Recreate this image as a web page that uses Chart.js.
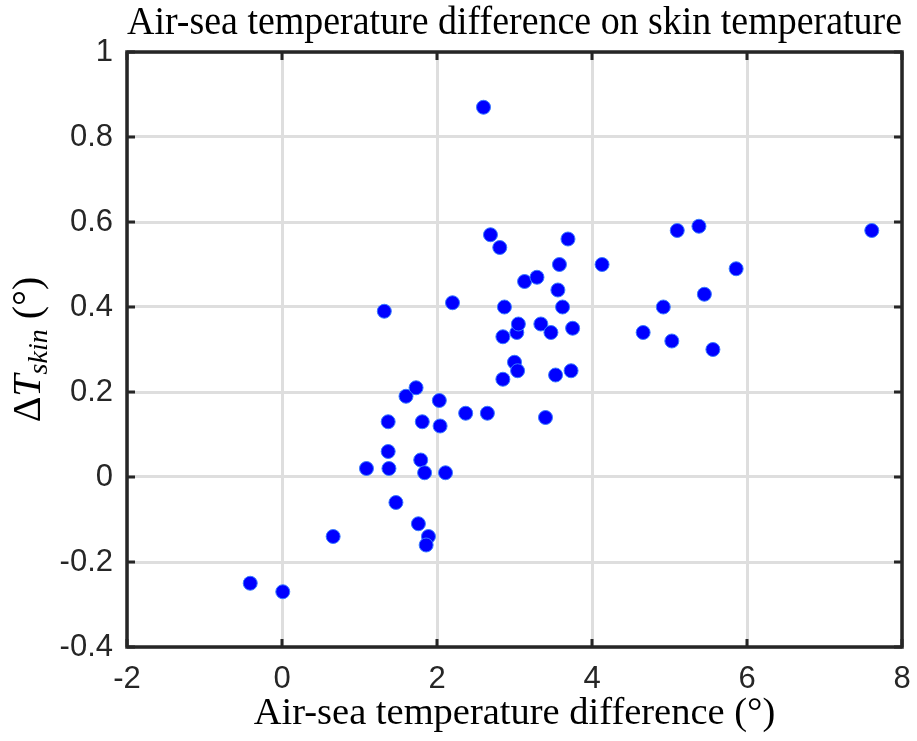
<!DOCTYPE html>
<html>
<head>
<meta charset="utf-8">
<script src="https://cdn.jsdelivr.net/npm/chart.js@4.4.1/dist/chart.umd.min.js"></script>
<style>
  html, body { margin: 0; padding: 0; background: #fff; }
</style>
</head>
<body>
<canvas id="graphe" width="917" height="741"></canvas>
<script>
// Textes du graphique
const chartTitle = 'Air-sea temperature difference on skin temperature';
const xAxisTitle = 'Air-sea temperature difference (°)';

// Points (x : difference air-mer, y : delta T skin)
const airSeaDiff = [-0.41, 0.01, 0.66, 1.09, 1.32, 1.37, 1.37, 1.38, 1.47, 1.60,
  1.73, 1.76, 1.79, 1.81, 1.84, 1.89, 1.86, 2.03, 2.04, 2.11,
  2.20, 2.37, 2.60, 2.65, 2.69, 2.81, 2.85, 2.85, 2.87, 3.00,
  3.03, 3.04, 3.05, 3.13, 3.29, 3.34, 3.40, 3.47, 3.53, 3.56,
  3.58, 3.62, 3.69, 3.73, 3.75, 4.13, 4.66, 4.92, 5.03, 5.10,
  5.38, 5.45, 5.56, 5.86, 7.61];
const deltaTskin = [-0.25, -0.27, -0.14, 0.02, 0.39, 0.13, 0.06, 0.02, -0.06, 0.19,
  0.21, -0.11, 0.04, 0.13, 0.01, -0.14, -0.16, 0.18, 0.12, 0.01,
  0.41, 0.15, 0.87, 0.15, 0.57, 0.54, 0.33, 0.23, 0.40, 0.27,
  0.34, 0.25, 0.36, 0.46, 0.47, 0.36, 0.14, 0.34, 0.24, 0.44,
  0.50, 0.40, 0.56, 0.25, 0.35, 0.50, 0.34, 0.40, 0.32, 0.58,
  0.59, 0.43, 0.30, 0.49, 0.58];

// Graduations
const xTickValues = [-2, 0, 2, 4, 6, 8];
const xTickLabels = ['-2', '0', '2', '4', '6', '8'];
const yTickValues = [-0.4, -0.2, 0, 0.2, 0.4, 0.6, 0.8, 1];
const yTickLabels = ['-0.4', '-0.2', '0', '0.2', '0.4', '0.6', '0.8', '1'];

const serif = "'Liberation Serif', 'DejaVu Serif', serif";
const sans = "'Liberation Sans', Arial, sans-serif";
const axisColor = '#262626';

// Cadre + graduations vers l'interieur (style MATLAB)
const framePlugin = {
  id: 'frame',
  afterDraw(chart) {
    const ctx = chart.ctx;
    const a = chart.chartArea;
    const xs = chart.scales.x, ys = chart.scales.y;
    const len = 8;
    ctx.save();
    ctx.strokeStyle = axisColor;
    ctx.lineWidth = 3;
    ctx.beginPath();
    xTickValues.forEach(function (v) {
      const px = xs.getPixelForValue(v);
      ctx.moveTo(px, a.bottom); ctx.lineTo(px, a.bottom - len);
      ctx.moveTo(px, a.top); ctx.lineTo(px, a.top + len);
    });
    yTickValues.forEach(function (v) {
      const py = ys.getPixelForValue(v);
      ctx.moveTo(a.left, py); ctx.lineTo(a.left + len, py);
      ctx.moveTo(a.right, py); ctx.lineTo(a.right - len, py);
    });
    ctx.stroke();
    ctx.lineWidth = 3.5;
    ctx.strokeRect(a.left, a.top, a.right - a.left, a.bottom - a.top);
    ctx.restore();
  }
};

// Titre de l'axe y avec indice (Delta T_skin)
const yLabelPlugin = {
  id: 'yLabel',
  afterDraw(chart) {
    const ctx = chart.ctx;
    const a = chart.chartArea;
    const parts = [
      { t: '\u0394', f: '40px ' + serif, dy: 0 },
      { t: 'T', f: 'italic 40px ' + serif, dy: 0 },
      { t: 'skin', f: 'italic 28px ' + serif, dy: 7 },
      { t: ' (\u00B0)', f: '40px ' + serif, dy: 0 }
    ];
    ctx.save();
    let total = 0;
    parts.forEach(function (p) { ctx.font = p.f; p.w = ctx.measureText(p.t).width; total += p.w; });
    ctx.translate(40, (a.top + a.bottom) / 2);
    ctx.rotate(-Math.PI / 2);
    ctx.fillStyle = '#000';
    ctx.textBaseline = 'alphabetic';
    let x = -total / 2;
    parts.forEach(function (p) {
      ctx.font = p.f;
      ctx.fillText(p.t, x, p.dy);
      x += p.w;
    });
    ctx.restore();
  }
};

const points = airSeaDiff.map(function (x, i) { return { x: x, y: deltaTskin[i] }; });

const myChart = new Chart(document.getElementById('graphe').getContext('2d'), {
  type: 'scatter',
  data: {
    datasets: [{
      label: 'Delta T skin',
      data: points,
      backgroundColor: '#0000ff',
      borderColor: '#3a7bff',
      borderWidth: 1,
      pointRadius: 7,
      pointHoverRadius: 7
    }]
  },
  options: {
    responsive: false,
    animation: false,
    layout: { autoPadding: false, padding: { left: 0, right: 15, top: 0, bottom: 0 } },
    plugins: {
      legend: { display: false },
      tooltip: { enabled: false },
      title: {
        display: true,
        text: chartTitle,
        fullSize: false,
        color: '#000',
        font: { family: serif, size: 39.5, weight: 'normal' },
        padding: { top: 0, bottom: 4.6 }
      }
    },
    scales: {
      x: {
        type: 'linear',
        min: -2,
        max: 8,
        afterBuildTicks: function (s) { s.ticks = xTickValues.map(function (v) { return { value: v }; }); },
        afterFit: function (s) { s.height = 94; s.paddingLeft = 0; s.paddingRight = 0; },
        ticks: {
          color: axisColor,
          font: { family: sans, size: 31 },
          padding: 14,
          maxRotation: 0,
          callback: function (v, i) { return xTickLabels[i]; }
        },
        grid: { color: '#dedede', lineWidth: 3, drawTicks: false },
        border: { display: false },
        title: {
          display: true,
          text: xAxisTitle,
          color: '#000',
          font: { family: serif, size: 38.5 },
          padding: { top: 0, bottom: 4 }
        }
      },
      y: {
        type: 'linear',
        min: -0.4,
        max: 1,
        afterBuildTicks: function (s) { s.ticks = yTickValues.map(function (v) { return { value: v }; }); },
        afterFit: function (s) { s.width = 127; s.paddingTop = 0; s.paddingBottom = 0; },
        ticks: {
          color: axisColor,
          font: { family: sans, size: 31 },
          padding: 14,
          callback: function (v, i) { return yTickLabels[i]; }
        },
        grid: { color: '#dedede', lineWidth: 3, drawTicks: false },
        border: { display: false }
      }
    }
  },
  plugins: [framePlugin, yLabelPlugin]
});
</script>
</body>
</html>
